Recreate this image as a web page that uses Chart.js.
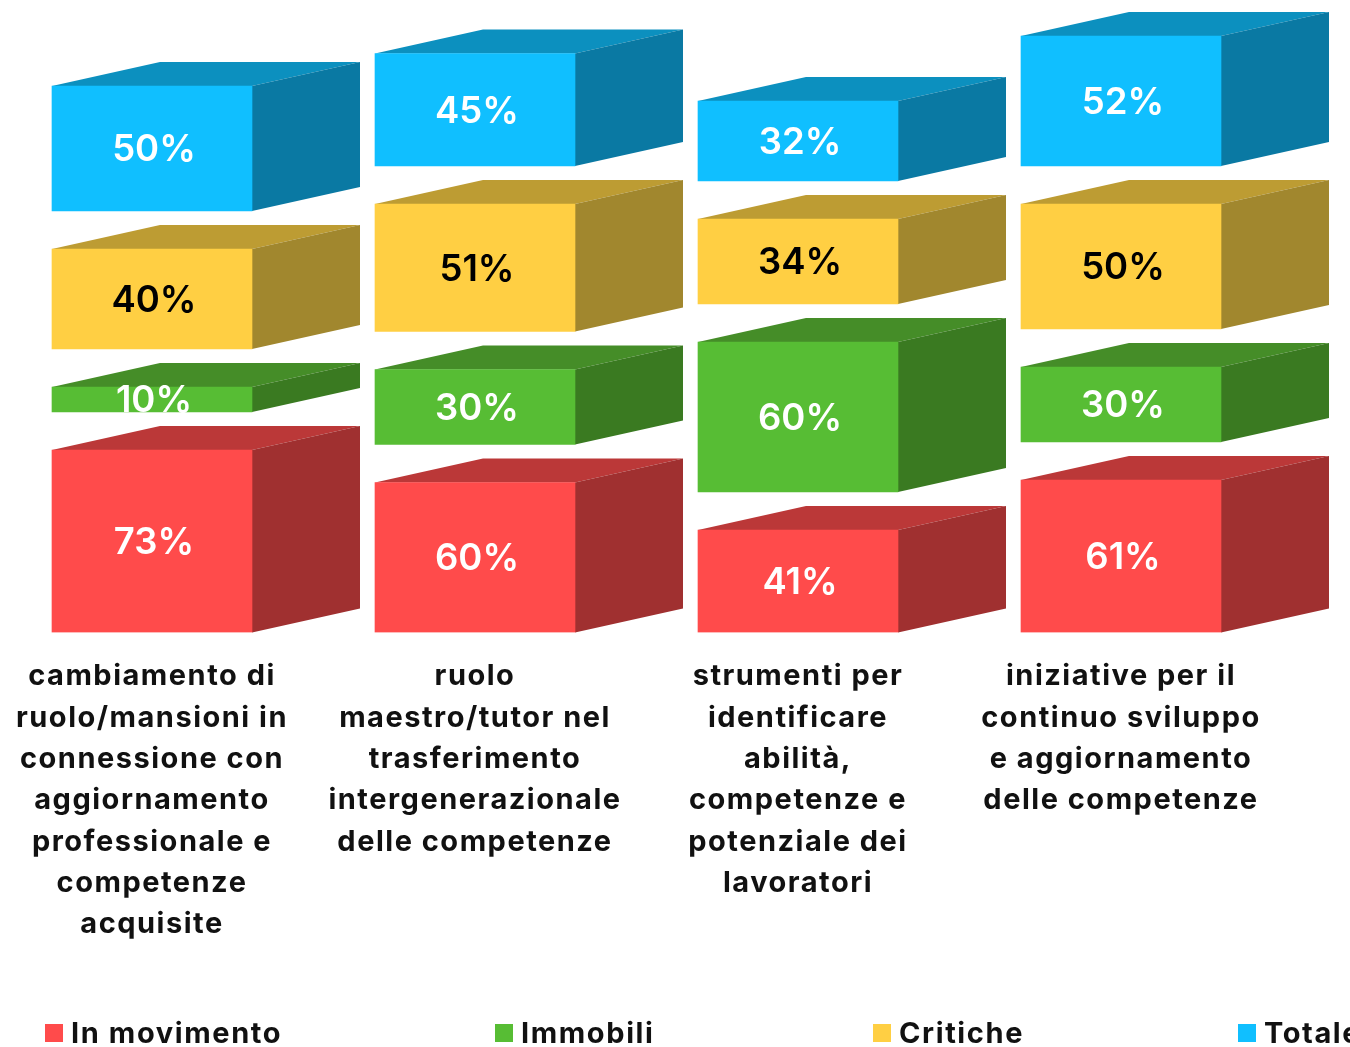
<!DOCTYPE html>
<html>
<head>
<meta charset="utf-8">
<title>Competenze</title>
<script src="https://cdn.jsdelivr.net/npm/chart.js@4"></script>
<style>
    html, body { margin: 0; padding: 0; background: #fff; overflow: hidden; }
    #box { width: 1370px; height: 1047px; margin-left: -20px; }
</style>
</head>
<body>
<div id="box"><canvas id="chart"></canvas></div>
<script>
const categories = [
    ['cambiamento di', 'ruolo/mansioni in', 'connessione con', 'aggiornamento', 'professionale e', 'competenze', 'acquisite'],
    ['ruolo', 'maestro/tutor nel', 'trasferimento', 'intergenerazionale', 'delle competenze'],
    ['strumenti per', 'identificare', 'abilità,', 'competenze e', 'potenziale dei', 'lavoratori'],
    ['iniziative per il', 'continuo sviluppo', 'e aggiornamento', 'delle competenze']
];

const inMovimento = [73, 60, 41, 61];
const immobili = [10, 30, 60, 30];
const critiche = [40, 51, 34, 50];
const totale = [50, 45, 32, 52];

// vuoto tra un blocco e l'altro, in punti percentuali
const GAP = 15.2;
const DEPTH_X = 108;
const DEPTH_Y = 24;
const FONT = 'Inter, sans-serif';
const LEGEND_X = [65, 515, 893, 1258];

// ogni blocco galleggia sopra i precedenti
let floor = [0, 0, 0, 0];
function nextBlocks(values) {
    const blocks = values.map((v, i) => [floor[i], floor[i] + v]);
    floor = blocks.map(b => b[1] + GAP);
    return blocks;
}

function makeSeries(label, values, front, top, side, textColor) {
    return {
        label: label,
        data: nextBlocks(values),
        values: values,
        backgroundColor: front,
        topColor: top,
        sideColor: side,
        textColor: textColor,
        barThickness: 200,
        grouped: false
    };
}

const datasets = [
    makeSeries('In movimento', inMovimento, '#ff4b4b', '#bb3838', '#a03030', '#fff'),
    makeSeries('Immobili', immobili, '#57bd34', '#458d28', '#3a7a21', '#fff'),
    makeSeries('Critiche', critiche, '#ffcf43', '#bd9c33', '#a1872e', '#000'),
    makeSeries('Totale', totale, '#10bfff', '#0c90bf', '#0a79a3', '#fff')
];

// facce superiore e laterale dei blocchi
const depthFaces = {
    id: 'depthFaces',
    beforeDraw(chart) {
        // spaziatura delle etichette dell'asse
        chart.ctx.letterSpacing = '1.5px';
    },
    beforeDatasetsDraw(chart) {
        const ctx = chart.ctx;
        chart.data.datasets.forEach((ds, d) => {
            chart.getDatasetMeta(d).data.forEach(bar => {
                const left = bar.x - bar.width / 2;
                const right = bar.x + bar.width / 2;
                ctx.fillStyle = ds.topColor;
                ctx.beginPath();
                ctx.moveTo(left, bar.y);
                ctx.lineTo(left + DEPTH_X, bar.y - DEPTH_Y);
                ctx.lineTo(right + DEPTH_X, bar.y - DEPTH_Y);
                ctx.lineTo(right, bar.y);
                ctx.closePath();
                ctx.fill();
                ctx.fillStyle = ds.sideColor;
                ctx.beginPath();
                ctx.moveTo(right, bar.y);
                ctx.lineTo(right + DEPTH_X, bar.y - DEPTH_Y);
                ctx.lineTo(right + DEPTH_X, bar.base - DEPTH_Y);
                ctx.lineTo(right, bar.base);
                ctx.closePath();
                ctx.fill();
            });
        });
    }
};

// percentuali al centro della faccia frontale
const valueLabels = {
    id: 'valueLabels',
    afterDatasetsDraw(chart) {
        const ctx = chart.ctx;
        ctx.save();
        ctx.letterSpacing = '0px';
        ctx.font = '600 36.5px ' + FONT;
        ctx.textAlign = 'center';
        ctx.textBaseline = 'middle';
        chart.data.datasets.forEach((ds, d) => {
            ctx.fillStyle = ds.textColor;
            chart.getDatasetMeta(d).data.forEach((bar, i) => {
                ctx.fillText(ds.values[i] + '%', bar.x + 2, (bar.y + bar.base) / 2 + 2);
            });
        });
        ctx.restore();
    }
};

// legenda su una riga, l'ultima voce esce dal bordo destro
const bottomLegend = {
    id: 'bottomLegend',
    afterDraw(chart) {
        const ctx = chart.ctx;
        ctx.save();
        ctx.letterSpacing = '1.6px';
        ctx.font = '700 29px ' + FONT;
        ctx.textBaseline = 'middle';
        chart.data.datasets.forEach((ds, d) => {
            ctx.fillStyle = ds.backgroundColor;
            ctx.fillRect(LEGEND_X[d], 1024, 18, 18);
            ctx.fillStyle = '#111';
            ctx.fillText(ds.label, LEGEND_X[d] + 26, 1034);
        });
        ctx.restore();
    }
};

new Chart(document.getElementById('chart'), {
    type: 'bar',
    data: { labels: categories, datasets: datasets },
    plugins: [depthFaces, valueLabels, bottomLegend],
    options: {
        responsive: true,
        maintainAspectRatio: false,
        animation: false,
        layout: { padding: { left: 10.5, right: 67.5, top: 0, bottom: 0 } },
        plugins: {
            legend: { display: false },
            tooltip: { enabled: false }
        },
        scales: {
            x: {
                afterFit(scale) { scale.height = 414.5; },
                grid: { display: false },
                border: { display: false },
                ticks: {
                    autoSkip: false,
                    maxRotation: 0,
                    padding: 15.5,
                    color: '#111',
                    font: { family: FONT, size: 29, weight: '700', lineHeight: 1.425 }
                }
            },
            y: {
                display: false,
                min: 0,
                max: 253
            }
        }
    }
});
</script>
</body>
</html>
